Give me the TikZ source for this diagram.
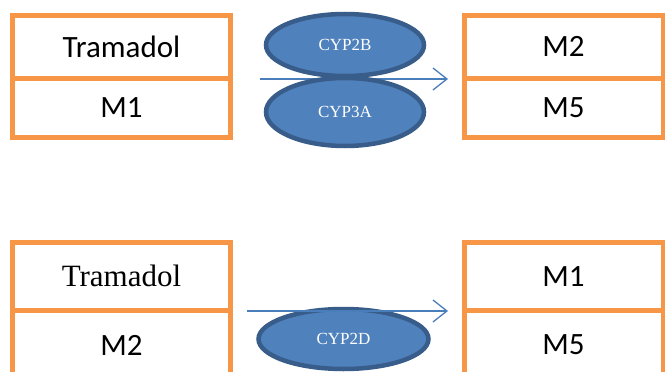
\documentclass[tikz,border=0pt]{standalone}
\usepackage{fontspec}
\setmainfont{Liberation Serif}
\newfontfamily\calibri{Carlito}
\usetikzlibrary{shapes.geometric,arrows.meta}
\definecolor{boxorange}{HTML}{F79646}
\definecolor{enzfill}{HTML}{4F81BD}
\definecolor{enzline}{HTML}{385D8A}
\definecolor{arrowblue}{HTML}{4A7EBB}
\tikzset{
  cell/.style={draw=boxorange, line width=5pt, fill=white, inner sep=0pt,
    outer sep=0pt, minimum width=#1, anchor=north,
    font=\calibri\fontsize{31}{31}\selectfont},
  enzyme/.style={ellipse, draw=enzline, fill=enzfill, line width=4.5pt,
    text=white, inner sep=0pt, font=\fontsize{17}{17}\selectfont},
  flow/.style={draw=arrowblue, line width=1.3pt,
    -{Straight Barb[length=14pt,width=22pt]}}
}
\begin{document}
\begin{tikzpicture}[x=1pt,y=-1pt]
  \useasboundingbox (0,0) rectangle (665,372);
  % first reaction
  \node[cell=218pt, minimum height=62.5pt] (tram1) at (121.5,15.5) {Tramadol};
  \node[cell=218pt, minimum height=59.5pt] (m1a) at (tram1.south) {M1};
  \node[cell=199pt, minimum height=62.5pt] (m2a) at (563.5,15.5) {M2};
  \node[cell=199pt, minimum height=59.5pt] (m5a) at (m2a.south) {M5};
  \coordinate (in1) at (260,79);
  \coordinate (out1) at (448,79);
  \draw[flow] (in1) -- (out1);
  \node[enzyme, minimum width=158pt, minimum height=62pt] (cyp2b) at (345,45) {CYP2B};
  \node[enzyme, minimum width=158pt, minimum height=68pt] (cyp3a) at (345,112) {CYP3A};
  % second reaction
  \node[cell=218pt, minimum height=67.5pt, font=\fontsize{31}{31}\selectfont\rmfamily] (tram2) at (121.5,242.5) {Tramadol};
  \node[cell=218pt, minimum height=70pt] (m2b) at (tram2.south) {M2};
  \node[cell=199pt, minimum height=67.5pt] (m1b) at (563.5,242.5) {M1};
  \node[cell=199pt, minimum height=70pt] (m5b) at (m1b.south) {M5};
  \node[enzyme, minimum width=170pt, minimum height=60pt] (cyp2d) at (343.5,339) {CYP2D};
  \coordinate (in2) at (247,311);
  \coordinate (out2) at (448,311);
  \draw[flow] (in2) -- (out2);
\end{tikzpicture}
\end{document}
